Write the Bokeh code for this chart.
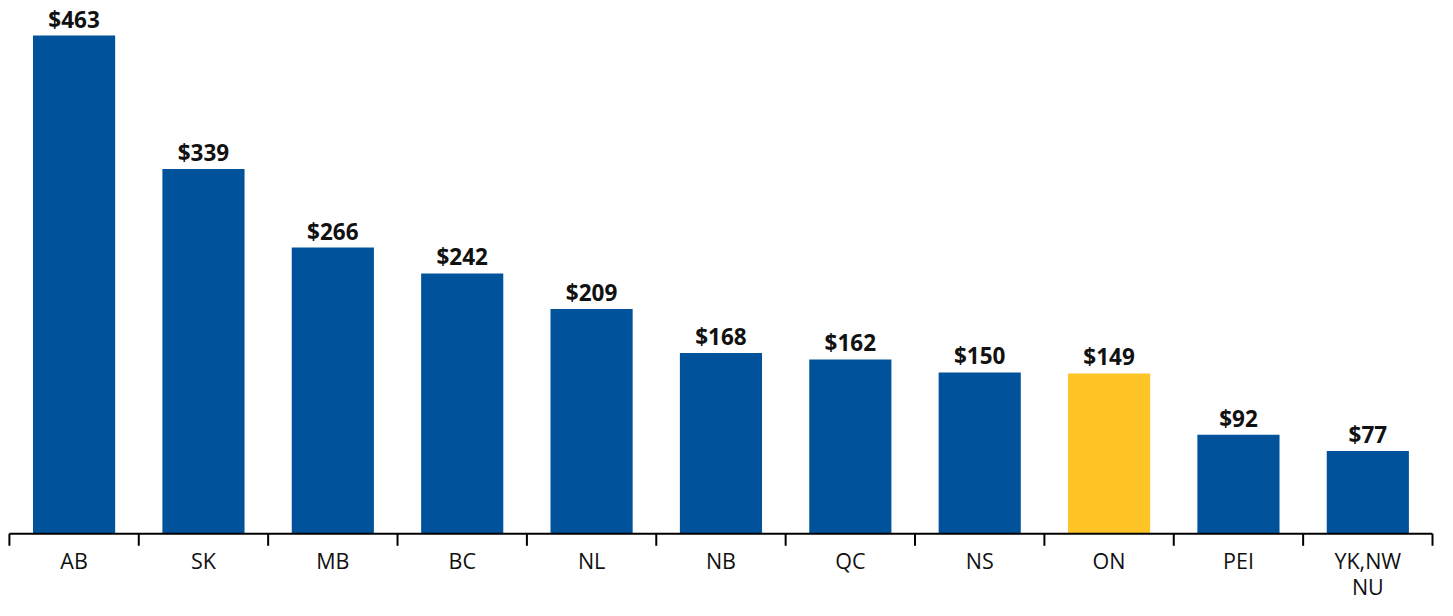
from bokeh.plotting import figure
from bokeh.models import ColumnDataSource, Range1d
from bokeh.core.properties import value
from bokeh.embed import file_html
from bokeh.resources import INLINE

categories = ["AB", "SK", "MB", "BC", "NL", "NB", "QC", "NS", "ON", "PEI", "YK,NW\nNU"]
values = [463, 339, 266, 242, 209, 168, 162, 150, 149, 92, 77]
labels = ["$463", "$339", "$266", "$242", "$209", "$168", "$162", "$150", "$149", "$92", "$77"]
highlight = "ON"

BLUE = "#00539B"
YELLOW = "#FFC425"
FONT = "Open Sans"
TEXT = "#111111"

n = len(categories)
xs = [i + 0.5 for i in range(n)]
bounds = list(range(n + 1))
colors = [YELLOW if c == highlight else BLUE for c in categories]
src = ColumnDataSource(dict(x=xs, top=values, color=colors, label=labels, cat=categories))

W, H = 1439, 600
px_per_unit = 1.076           # vertical scale (pixels per dollar)
axis_px = 533.3               # axis line position from figure top
y_end = axis_px / px_per_unit
y_start = -(H - axis_px) / px_per_unit
tick_len = 12 / px_per_unit
x_start, x_end = -0.0688, n + 0.054

p = figure(width=W, height=H, output_backend="svg", toolbar_location=None,
           x_range=Range1d(x_start, x_end), y_range=Range1d(y_start, y_end),
           min_border_left=0, min_border_right=0, min_border_top=0, min_border_bottom=0)
p.outline_line_color = None
p.grid.grid_line_color = None
p.xaxis.visible = False
p.yaxis.visible = False
p.background_fill_color = "white"
p.border_fill_color = "white"

p.vbar(x="x", top="top", bottom=0, width=0.635, color="color", source=src, line_color=None)
p.text(x="x", y="top", text="label", source=src, text_align="center", text_baseline="bottom",
       y_offset=-1, text_font=value(FONT), text_font_style="bold", text_font_size="22.5px",
       text_color=TEXT)

# category axis: baseline, boundary ticks, labels
p.segment(x0=[bounds[0]], y0=[0], x1=[bounds[-1]], y1=[0], line_color="black", line_width=2)
p.segment(x0=bounds, y0=[0] * len(bounds), x1=bounds, y1=[-tick_len] * len(bounds),
          line_color="black", line_width=2)
p.text(x="x", y=0, text="cat", source=src, text_align="center", text_baseline="top",
       y_offset=12, text_font=value(FONT), text_font_size="21.5px", text_color=TEXT,
       text_line_height=0.92)

open("out.html", "w").write(file_html(p, INLINE))
